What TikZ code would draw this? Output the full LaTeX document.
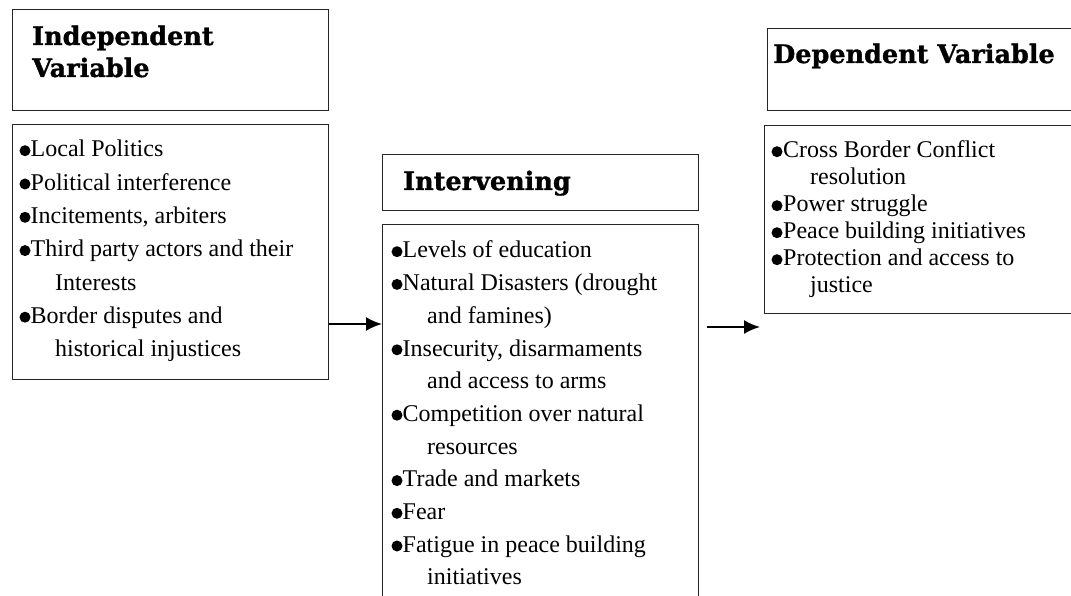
\documentclass[tikz,border=0pt]{standalone}
\usepackage{fontspec}
\setmainfont{Liberation Serif}
\newfontfamily\headfont{DejaVu Serif}[BoldFeatures={FakeBold=1.2}]
\usetikzlibrary{arrows.meta}
\newcommand{\bl}{\hspace*{10.5pt}}
\newcommand{\bld}{\hspace*{11pt}}
\newcommand{\ct}{\hspace*{35pt}}
\begin{document}
\begin{tikzpicture}[x=1pt,y=-1pt,
  box/.style={draw=black!85, line width=1.1pt, anchor=north west, inner sep=0pt},
  head/.style={anchor=base west, inner sep=0pt, font=\headfont\bfseries\fontsize{25.5}{32}\selectfont},
  items/.style={anchor=base west, inner sep=0pt},
  dotmark/.style={fill=black},
  arr/.style={line width=2pt, -{Latex[length=16pt,width=14pt]}}]
\clip (0,0) rectangle (1071,596);
\fill[white] (0,0) rectangle (1071,596);
% boxes
\node[box, minimum width=316pt, minimum height=101pt] (indh) at (12,9) {};
\node[box, minimum width=316pt, minimum height=255pt] (indl) at (12,124) {};
\node[box, minimum width=316pt, minimum height=56pt] (inth) at (382,154) {};
\node[box, minimum width=316pt, minimum height=420pt] (intl) at (382,224) {};
\node[box, minimum width=340pt, minimum height=82pt] (deph) at (767,28) {};
\node[box, minimum width=340pt, minimum height=188pt] (depl) at (764,125) {};
% headers
\node[head] (indht) at (32,45) {\parbox[t]{290pt}{Independent\\Variable}};
\node[head] (intht) at (403,190) {Intervening};
\node[head] (depht) at (773,63) {Dependent Variable};
% lists
\node[items] (indlt) at (20,157) {\parbox[t]{305pt}{\fontsize{24}{33.3}\selectfont
\bl Local Politics\\
\bl Political interference\\
\bl Incitements, arbiters\\
\bl Third party actors and their\\
\ct Interests\\
\bl Border disputes and\\
\ct historical injustices}};
\node[items] (intlt) at (392,258) {\parbox[t]{300pt}{\fontsize{24}{32.7}\selectfont
\bl Levels of education\\
\bl Natural Disasters (drought\\
\ct and famines)\\
\bl Insecurity, disarmaments\\
\ct and access to arms\\
\bl Competition over natural\\
\ct resources\\
\bl Trade and markets\\
\bl Fear\\
\bl Fatigue in peace building\\
\ct initiatives}};
\node[items] (deplt) at (772,158) {\parbox[t]{295pt}{\fontsize{24}{27}\selectfont
\bld Cross Border Conflict\\
\hspace*{38pt}resolution\\
\bld Power struggle\\
\bld Peace building initiatives\\
\bld Protection and access to\\
\hspace*{38pt}justice}};
% bullets
\foreach \k in {0,1,2,3,5} \fill[dotmark] (25,{157+33.3*\k-6.3}) circle (5.5pt);
\foreach \k in {0,1,3,5,7,8,9} \fill[dotmark] (397,{258+32.7*\k-6.3}) circle (5.5pt);
\foreach \k in {0,2,3,4} \fill[dotmark] (777,{158+27*\k-6.3}) circle (5.5pt);
% arrows
\coordinate (a1) at (0,324);
\draw[arr] (indl.east |- a1) -- (intl.west |- a1);
\coordinate (a2s) at (707,327);
\coordinate (a2e) at (760,327);
\draw[arr] (a2s) -- (a2e);
\end{tikzpicture}
\end{document}
